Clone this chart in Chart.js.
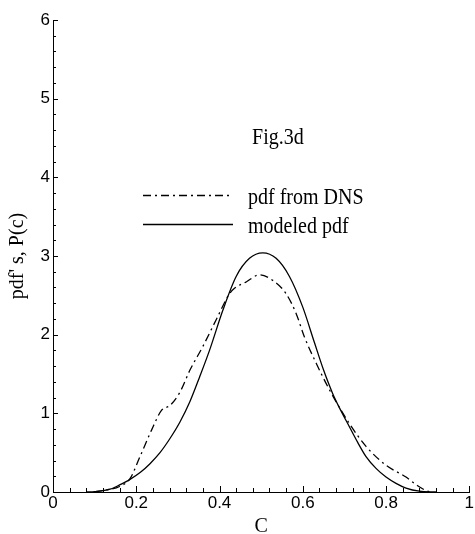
<!DOCTYPE html>
<html><head><meta charset="utf-8">
<script src="https://cdn.jsdelivr.net/npm/chart.js@4"></script>
<style>html,body{margin:0;padding:0;background:#fff}canvas{display:block}</style>
</head><body>
<canvas id="c" width="475" height="534"></canvas>
<script>
// ---- data ----
const seriesNames = ['pdf from DNS', 'modeled pdf'];
const dnsC = [0.10,0.12,0.16,0.185,0.209,0.237,0.261,0.281,0.305,0.329,0.36,0.392,0.424,0.436,0.464,0.496,0.528,0.56,0.584,0.604,0.632,0.664,0.712,0.752,0.80,0.848,0.876,0.90,0.91];
const dnsP = [0,0.02,0.07,0.17,0.45,0.79,1.04,1.10,1.27,1.55,1.85,2.19,2.52,2.59,2.67,2.76,2.69,2.52,2.27,1.97,1.64,1.30,0.87,0.58,0.34,0.19,0.08,0.01,0];
const modelC = [0.08,0.10,0.137,0.16,0.185,0.21,0.233,0.257,0.281,0.305,0.329,0.352,0.376,0.408,0.44,0.472,0.504,0.536,0.568,0.60,0.628,0.65,0.672,0.692,0.712,0.732,0.752,0.776,0.80,0.824,0.848,0.88,0.92];
const modelP = [0,0.005,0.035,0.09,0.16,0.25,0.36,0.50,0.68,0.89,1.15,1.46,1.80,2.31,2.74,2.97,3.04,2.97,2.74,2.35,1.90,1.55,1.25,1.03,0.83,0.63,0.45,0.30,0.19,0.11,0.05,0.01,0];
const xTickLabels = ['0','0.2','0.4','0.6','0.8','1'];
const yTickLabels = ['0','1','2','3','4','5','6'];
const figLabel = 'Fig.3d';
const xTitle = 'C';
const yTitle = "pdf' s, P(c)";

const toPts = (xs, ys) => xs.map((x, i) => ({x, y: ys[i]}));
const SERIF = '"Liberation Serif", "Times New Roman", serif';
const SANS = '"Liberation Sans", Arial, sans-serif';

function labelFor(v, step, labels) {
  const k = Math.round(v / step);
  return Math.abs(v - k * step) < 1e-6 && labels[k] !== undefined ? labels[k] : '';
}

function drawCondensed(ctx, text, x, y) {
  ctx.save();
  ctx.translate(x, y);
  ctx.scale(0.87, 1);
  ctx.textBaseline = 'alphabetic';
  ctx.textAlign = 'left';
  ctx.fillText(text, 0, 0);
  ctx.restore();
}

const inwardTicks = {
  id: 'inwardTicks',
  afterDraw(chart) {
    const ctx = chart.ctx, ca = chart.chartArea;
    const xs = chart.scales.x, ys = chart.scales.y;
    ctx.save();
    ctx.strokeStyle = '#000';
    ctx.lineWidth = 1;
    ctx.beginPath();
    xs.ticks.forEach(t => {
      const px = Math.round(xs.getPixelForValue(t.value)) + 0.5;
      const len = t.label ? 6 : 4;
      ctx.moveTo(px, ca.bottom);
      ctx.lineTo(px, ca.bottom - len);
    });
    ys.ticks.forEach(t => {
      const py = Math.round(ys.getPixelForValue(t.value)) + 0.5;
      const len = t.label ? 5 : 3;
      ctx.moveTo(ca.left, py);
      ctx.lineTo(ca.left + len, py);
    });
    ctx.stroke();
    ctx.restore();
  }
};

const legendAndTag = {
  id: 'legendAndTag',
  afterDraw(chart) {
    const ctx = chart.ctx;
    ctx.save();
    ctx.fillStyle = '#000';
    ctx.font = '23px ' + SERIF;
    drawCondensed(ctx, figLabel, 252, 144);
    const rows = [195, 224];
    chart.data.datasets.forEach((ds, i) => {
      ctx.save();
      ctx.strokeStyle = ds.borderColor;
      ctx.lineWidth = ds.borderWidth;
      ctx.setLineDash(ds.borderDash || []);
      ctx.beginPath();
      ctx.moveTo(143, rows[i] + 0.5);
      ctx.lineTo(233, rows[i] + 0.5);
      ctx.stroke();
      ctx.restore();
      drawCondensed(ctx, ds.label, 248, rows[i] + 8.5);
    });
    ctx.restore();
  }
};

new Chart(document.getElementById('c'), {
  type: 'scatter',
  data: {
    datasets: [
      { label: seriesNames[0], data: toPts(dnsC, dnsP), showLine: true, borderColor: '#000',
        borderWidth: 1.3, borderDash: [8, 4, 2, 4], pointRadius: 0, cubicInterpolationMode: 'monotone', fill: false },
      { label: seriesNames[1], data: toPts(modelC, modelP), showLine: true, borderColor: '#000',
        borderWidth: 1.3, pointRadius: 0, cubicInterpolationMode: 'monotone', fill: false }
    ]
  },
  options: {
    responsive: false,
    animation: false,
    events: [],
    layout: { padding: { top: 20, right: 5, left: 0, bottom: 0 } },
    plugins: { legend: { display: false }, tooltip: { enabled: false } },
    scales: {
      x: {
        type: 'linear', min: 0, max: 1,
        grid: { display: false, drawTicks: false },
        border: { display: true, color: '#000', width: 1 },
        ticks: {
          stepSize: 0.04, autoSkip: false, maxRotation: 0, padding: 1, color: '#000',
          font: { family: SANS, size: 17 },
          callback: v => labelFor(v, 0.2, xTickLabels)
        },
        title: { display: true, text: xTitle, color: '#000',
          font: { family: SERIF, size: 20, lineHeight: 0.75 }, padding: { top: 0, bottom: 0 } },
        afterFit(s) { s.height = 42; }
      },
      y: {
        type: 'linear', min: 0, max: 6,
        grid: { display: false, drawTicks: false },
        border: { display: true, color: '#000', width: 1 },
        ticks: {
          stepSize: 0.2, autoSkip: false, padding: 3, color: '#000',
          font: { family: SANS, size: 17 },
          callback: v => labelFor(v, 1, yTickLabels)
        },
        title: { display: true, text: yTitle, color: '#000',
          font: { family: SERIF, size: 20, lineHeight: 1.2 }, padding: { top: 6, bottom: 0 } },
        afterFit(s) { s.width = 53; }
      }
    }
  },
  plugins: [inwardTicks, legendAndTag]
});
</script>
</body></html>
